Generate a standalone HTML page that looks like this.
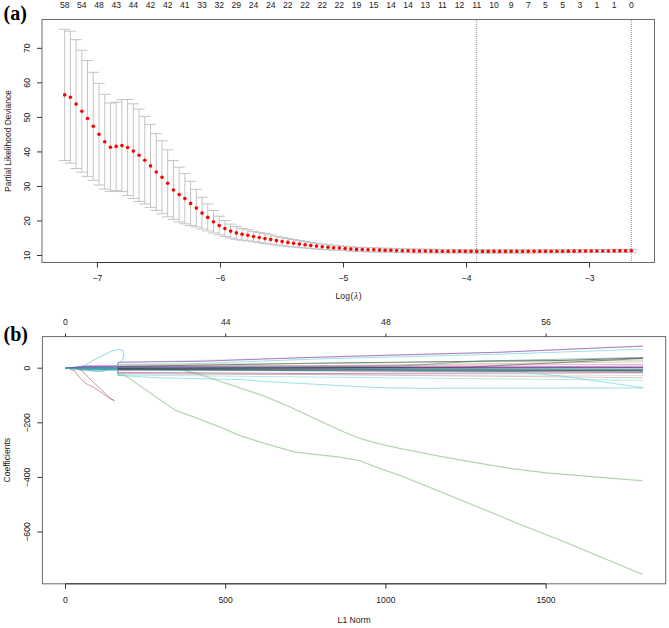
<!DOCTYPE html>
<html><head><meta charset="utf-8"><style>
html,body{margin:0;padding:0;background:#fff;width:669px;height:628px;overflow:hidden}
svg{display:block}
</style></head><body>
<svg width="669" height="628" viewBox="0 0 669 628"><rect width="669" height="628" fill="#fff"/><path d="M64.66 29.30V160.50M58.99 29.30H70.33M58.99 160.50H70.33M70.38 31.20V163.20M64.71 31.20H76.05M64.71 163.20H76.05M76.11 39.70V168.50M70.44 39.70H81.78M70.44 168.50H81.78M81.83 50.20V172.20M76.16 50.20H87.50M76.16 172.20H87.50M87.55 60.60V176.40M81.88 60.60H93.22M81.88 176.40H93.22M93.28 72.30V180.30M87.61 72.30H98.95M87.61 180.30H98.95M99.00 83.40V185.00M93.33 83.40H104.67M93.33 185.00H104.67M104.73 94.30V189.10M99.06 94.30H110.40M99.06 189.10H110.40M110.45 103.00V191.40M104.78 103.00H116.12M104.78 191.40H116.12M116.17 102.20V190.60M110.50 102.20H121.84M110.50 190.60H121.84M121.90 99.60V191.60M116.23 99.60H127.57M116.23 191.60H127.57M127.62 99.50V195.50M121.95 99.50H133.29M121.95 195.50H133.29M133.34 103.80V198.40M127.67 103.80H139.01M127.67 198.40H139.01M139.07 109.00V201.40M133.40 109.00H144.74M133.40 201.40H144.74M144.79 116.40V204.00M139.12 116.40H150.46M139.12 204.00H150.46M150.51 124.40V207.40M144.84 124.40H156.18M144.84 207.40H156.18M156.24 133.60V210.40M150.57 133.60H161.91M150.57 210.40H161.91M161.96 140.80V213.80M156.29 140.80H167.63M156.29 213.80H167.63M167.68 149.80V216.80M162.01 149.80H173.35M162.01 216.80H173.35M173.41 160.60V219.40M167.74 160.60H179.08M167.74 219.40H179.08M179.13 167.20V222.00M173.46 167.20H184.80M173.46 222.00H184.80M184.86 173.40V223.80M179.19 173.40H190.53M179.19 223.80H190.53M190.58 181.30V225.50M184.91 181.30H196.25M184.91 225.50H196.25M196.30 189.30V226.90M190.63 189.30H201.97M190.63 226.90H201.97M202.03 197.30V228.90M196.36 197.30H207.70M196.36 228.90H207.70M207.75 203.90V230.90M202.08 203.90H213.42M202.08 230.90H213.42M213.47 210.50V232.90M207.80 210.50H219.14M207.80 232.90H219.14M219.20 216.20V234.80M213.53 216.20H224.87M213.53 234.80H224.87M224.92 220.60V236.60M219.25 220.60H230.59M219.25 236.60H230.59M230.64 224.10V238.10M224.97 224.10H236.31M224.97 238.10H236.31M236.37 226.50V239.30M230.70 226.50H242.04M230.70 239.30H242.04M242.09 228.40V240.20M236.42 228.40H247.76M236.42 240.20H247.76M247.82 229.70V240.90M242.15 229.70H253.49M242.15 240.90H253.49M253.54 231.30V241.70M247.87 231.30H259.21M247.87 241.70H259.21M259.26 232.40V242.60M253.59 232.40H264.93M253.59 242.60H264.93M264.99 233.60V243.60M259.32 233.60H270.66M259.32 243.60H270.66M270.71 234.90V244.10M265.04 234.90H276.38M265.04 244.10H276.38M276.43 236.20V245.00M270.76 236.20H282.10M270.76 245.00H282.10M282.16 237.40V245.80M276.49 237.40H287.83M276.49 245.80H287.83M287.88 238.44V246.36M282.21 238.44H293.55M282.21 246.36H293.55M293.60 239.58V247.02M287.93 239.58H299.27M287.93 247.02H299.27M299.33 240.62V247.58M293.66 240.62H305.00M293.66 247.58H305.00M305.05 241.46V247.94M299.38 241.46H310.72M299.38 247.94H310.72M310.77 242.50V248.50M305.10 242.50H316.44M305.10 248.50H316.44M316.50 243.26V248.94M310.83 243.26H322.17M310.83 248.94H322.17M322.22 244.12V249.48M316.55 244.12H327.89M316.55 249.48H327.89M327.95 244.78V249.82M322.28 244.78H333.62M322.28 249.82H333.62M333.67 245.34V250.06M328.00 245.34H339.34M328.00 250.06H339.34M339.39 245.80V250.20M333.72 245.80H345.06M333.72 250.20H345.06M345.12 246.32V250.68M339.45 246.32H350.79M339.45 250.68H350.79M350.84 246.85V251.15M345.17 246.85H356.51M345.17 251.15H356.51M356.56 247.28V251.53M350.89 247.28H362.23M350.89 251.53H362.23M362.29 247.40V251.60M356.62 247.40H367.96M356.62 251.60H367.96M368.01 247.62V251.77M362.34 247.62H373.68M362.34 251.77H373.68M373.73 247.75V251.85M368.06 247.75H379.40M368.06 251.85H379.40M379.46 248.07V252.12M373.79 248.07H385.13M373.79 252.12H385.13M385.18 248.20V252.20M379.51 248.20H390.85M379.51 252.20H390.85M390.91 248.33V252.28M385.24 248.33H396.58M385.24 252.28H396.58M396.63 248.65V252.55M390.96 248.65H402.30M390.96 252.55H402.30M402.35 248.77V252.62M396.68 248.77H408.02M396.68 252.62H408.02M408.08 248.90V252.70M402.41 248.90H413.75M402.41 252.70H413.75M413.80 249.03V252.78M408.13 249.03H419.47M408.13 252.78H419.47M419.52 249.11V252.81M413.85 249.11H425.19M413.85 252.81H425.19M425.25 249.20V252.84M419.58 249.20H430.92M419.58 252.84H430.92M430.97 249.28V252.88M425.30 249.28H436.64M425.30 252.88H436.64M436.69 249.36V252.91M431.02 249.36H442.36M431.02 252.91H442.36M442.42 249.45V252.95M436.75 249.45H448.09M436.75 252.95H448.09M448.14 249.51V252.96M442.47 249.51H453.81M442.47 252.96H453.81M453.86 249.57V252.97M448.19 249.57H459.53M448.19 252.97H459.53M459.59 249.62V252.98M453.92 249.62H465.26M453.92 252.98H465.26M465.31 249.68V252.98M459.64 249.68H470.98M459.64 252.98H470.98M471.04 249.74V252.99M465.37 249.74H476.71M465.37 252.99H476.71M476.76 249.80V253.00M471.09 249.80H482.43M471.09 253.00H482.43M482.48 249.80V253.00M476.81 249.80H488.15M476.81 253.00H488.15M488.21 249.81V252.99M482.54 249.81H493.88M482.54 252.99H493.88M493.93 249.81V252.99M488.26 249.81H499.60M488.26 252.99H499.60M499.65 249.81V252.99M493.98 249.81H505.32M493.98 252.99H505.32M505.38 249.82V252.98M499.71 249.82H511.05M499.71 252.98H511.05M511.10 249.82V252.98M505.43 249.82H516.77M505.43 252.98H516.77M516.82 249.83V252.97M511.15 249.83H522.49M511.15 252.97H522.49M522.55 249.83V252.97M516.88 249.83H528.22M516.88 252.97H528.22M528.27 249.80V252.94M522.60 249.80H533.94M522.60 252.94H533.94M534.00 249.78V252.90M528.33 249.78H539.67M528.33 252.90H539.67M539.72 249.75V252.87M534.05 249.75H545.39M534.05 252.87H545.39M545.44 249.72V252.84M539.77 249.72H551.11M539.77 252.84H551.11M551.17 249.70V252.80M545.50 249.70H556.84M545.50 252.80H556.84M556.89 249.67V252.77M551.22 249.67H562.56M551.22 252.77H562.56M562.61 249.65V252.73M556.94 249.65H568.28M556.94 252.73H568.28M568.34 249.62V252.70M562.67 249.62H574.01M562.67 252.70H574.01M574.06 249.59V252.67M568.39 249.59H579.73M568.39 252.67H579.73M579.78 249.57V252.63M574.11 249.57H585.45M574.11 252.63H585.45M585.51 249.54V252.60M579.84 249.54H591.18M579.84 252.60H591.18M591.23 249.51V252.56M585.56 249.51H596.90M585.56 252.56H596.90M596.95 249.48V252.52M591.28 249.48H602.62M591.28 252.52H602.62M602.68 249.45V252.49M597.01 249.45H608.35M597.01 252.49H608.35M608.40 249.42V252.45M602.73 249.42H614.07M602.73 252.45H614.07M614.13 249.39V252.41M608.46 249.39H619.80M608.46 252.41H619.80M619.85 249.36V252.37M614.18 249.36H625.52M614.18 252.37H625.52M625.57 249.33V252.34M619.90 249.33H631.24M619.90 252.34H631.24M631.30 249.30V252.30M625.63 249.30H636.97M625.63 252.30H636.97" stroke="#c4c4c4" stroke-width="1" fill="none"/><line x1="476.7" y1="20" x2="476.7" y2="262" stroke="#999" stroke-width="1" stroke-dasharray="1 1"/><line x1="631.4" y1="20" x2="631.4" y2="262" stroke="#999" stroke-width="1" stroke-dasharray="1 1"/><g fill="#ff0000"><circle cx="64.66" cy="94.90" r="1.8"/><circle cx="70.38" cy="97.20" r="1.8"/><circle cx="76.11" cy="104.10" r="1.8"/><circle cx="81.83" cy="111.20" r="1.8"/><circle cx="87.55" cy="118.50" r="1.8"/><circle cx="93.28" cy="126.30" r="1.8"/><circle cx="99.00" cy="134.20" r="1.8"/><circle cx="104.73" cy="141.70" r="1.8"/><circle cx="110.45" cy="147.20" r="1.8"/><circle cx="116.17" cy="146.40" r="1.8"/><circle cx="121.90" cy="145.60" r="1.8"/><circle cx="127.62" cy="147.50" r="1.8"/><circle cx="133.34" cy="151.10" r="1.8"/><circle cx="139.07" cy="155.20" r="1.8"/><circle cx="144.79" cy="160.20" r="1.8"/><circle cx="150.51" cy="165.90" r="1.8"/><circle cx="156.24" cy="172.00" r="1.8"/><circle cx="161.96" cy="177.30" r="1.8"/><circle cx="167.68" cy="183.30" r="1.8"/><circle cx="173.41" cy="190.00" r="1.8"/><circle cx="179.13" cy="194.60" r="1.8"/><circle cx="184.86" cy="198.60" r="1.8"/><circle cx="190.58" cy="203.40" r="1.8"/><circle cx="196.30" cy="208.10" r="1.8"/><circle cx="202.03" cy="213.10" r="1.8"/><circle cx="207.75" cy="217.40" r="1.8"/><circle cx="213.47" cy="221.70" r="1.8"/><circle cx="219.20" cy="225.50" r="1.8"/><circle cx="224.92" cy="228.60" r="1.8"/><circle cx="230.64" cy="231.10" r="1.8"/><circle cx="236.37" cy="232.90" r="1.8"/><circle cx="242.09" cy="234.30" r="1.8"/><circle cx="247.82" cy="235.30" r="1.8"/><circle cx="253.54" cy="236.50" r="1.8"/><circle cx="259.26" cy="237.50" r="1.8"/><circle cx="264.99" cy="238.60" r="1.8"/><circle cx="270.71" cy="239.50" r="1.8"/><circle cx="276.43" cy="240.60" r="1.8"/><circle cx="282.16" cy="241.60" r="1.8"/><circle cx="287.88" cy="242.40" r="1.8"/><circle cx="293.60" cy="243.30" r="1.8"/><circle cx="299.33" cy="244.10" r="1.8"/><circle cx="305.05" cy="244.70" r="1.8"/><circle cx="310.77" cy="245.50" r="1.8"/><circle cx="316.50" cy="246.10" r="1.8"/><circle cx="322.22" cy="246.80" r="1.8"/><circle cx="327.95" cy="247.30" r="1.8"/><circle cx="333.67" cy="247.70" r="1.8"/><circle cx="339.39" cy="248.00" r="1.8"/><circle cx="345.12" cy="248.50" r="1.8"/><circle cx="350.84" cy="249.00" r="1.8"/><circle cx="356.56" cy="249.40" r="1.8"/><circle cx="362.29" cy="249.50" r="1.8"/><circle cx="368.01" cy="249.70" r="1.8"/><circle cx="373.73" cy="249.80" r="1.8"/><circle cx="379.46" cy="250.10" r="1.8"/><circle cx="385.18" cy="250.20" r="1.8"/><circle cx="390.91" cy="250.30" r="1.8"/><circle cx="396.63" cy="250.60" r="1.8"/><circle cx="402.35" cy="250.70" r="1.8"/><circle cx="408.08" cy="250.80" r="1.8"/><circle cx="413.80" cy="250.90" r="1.8"/><circle cx="419.52" cy="250.96" r="1.8"/><circle cx="425.25" cy="251.02" r="1.8"/><circle cx="430.97" cy="251.08" r="1.8"/><circle cx="436.69" cy="251.14" r="1.8"/><circle cx="442.42" cy="251.20" r="1.8"/><circle cx="448.14" cy="251.23" r="1.8"/><circle cx="453.86" cy="251.27" r="1.8"/><circle cx="459.59" cy="251.30" r="1.8"/><circle cx="465.31" cy="251.33" r="1.8"/><circle cx="471.04" cy="251.37" r="1.8"/><circle cx="476.76" cy="251.40" r="1.8"/><circle cx="482.48" cy="251.40" r="1.8"/><circle cx="488.21" cy="251.40" r="1.8"/><circle cx="493.93" cy="251.40" r="1.8"/><circle cx="499.65" cy="251.40" r="1.8"/><circle cx="505.38" cy="251.40" r="1.8"/><circle cx="511.10" cy="251.40" r="1.8"/><circle cx="516.82" cy="251.40" r="1.8"/><circle cx="522.55" cy="251.40" r="1.8"/><circle cx="528.27" cy="251.37" r="1.8"/><circle cx="534.00" cy="251.34" r="1.8"/><circle cx="539.72" cy="251.31" r="1.8"/><circle cx="545.44" cy="251.28" r="1.8"/><circle cx="551.17" cy="251.25" r="1.8"/><circle cx="556.89" cy="251.22" r="1.8"/><circle cx="562.61" cy="251.19" r="1.8"/><circle cx="568.34" cy="251.16" r="1.8"/><circle cx="574.06" cy="251.13" r="1.8"/><circle cx="579.78" cy="251.10" r="1.8"/><circle cx="585.51" cy="251.07" r="1.8"/><circle cx="591.23" cy="251.03" r="1.8"/><circle cx="596.95" cy="251.00" r="1.8"/><circle cx="602.68" cy="250.97" r="1.8"/><circle cx="608.40" cy="250.93" r="1.8"/><circle cx="614.13" cy="250.90" r="1.8"/><circle cx="619.85" cy="250.87" r="1.8"/><circle cx="625.57" cy="250.83" r="1.8"/><circle cx="631.30" cy="250.80" r="1.8"/></g><rect x="42.0" y="19.5" width="612.5" height="243.0" fill="none" stroke="#6a6a6a" stroke-width="1"/><path d="M97.40 262.5V267.5M220.44 262.5V267.5M343.48 262.5V267.5M466.52 262.5V267.5M589.56 262.5V267.5M97.40 262.5H589.56M37.0 255.50H42.0M37.0 220.97H42.0M37.0 186.44H42.0M37.0 151.91H42.0M37.0 117.38H42.0M37.0 82.85H42.0M37.0 48.32H42.0" stroke="#333" stroke-width="1" fill="none"/><g font-family='"Liberation Sans", sans-serif' font-size="8.6" fill="#222"><text x="97.40" y="280.8" text-anchor="middle">−7</text><text x="220.44" y="280.8" text-anchor="middle">−6</text><text x="343.48" y="280.8" text-anchor="middle">−5</text><text x="466.52" y="280.8" text-anchor="middle">−4</text><text x="589.56" y="280.8" text-anchor="middle">−3</text><text transform="translate(30.2 255.50) rotate(-90)" text-anchor="middle">10</text><text transform="translate(30.2 220.97) rotate(-90)" text-anchor="middle">20</text><text transform="translate(30.2 186.44) rotate(-90)" text-anchor="middle">30</text><text transform="translate(30.2 151.91) rotate(-90)" text-anchor="middle">40</text><text transform="translate(30.2 117.38) rotate(-90)" text-anchor="middle">50</text><text transform="translate(30.2 82.85) rotate(-90)" text-anchor="middle">60</text><text transform="translate(30.2 48.32) rotate(-90)" text-anchor="middle">70</text><text x="64.66" y="7.9" text-anchor="middle">58</text><text x="81.83" y="7.9" text-anchor="middle">54</text><text x="99.00" y="7.9" text-anchor="middle">48</text><text x="116.17" y="7.9" text-anchor="middle">43</text><text x="133.34" y="7.9" text-anchor="middle">44</text><text x="150.51" y="7.9" text-anchor="middle">42</text><text x="167.68" y="7.9" text-anchor="middle">42</text><text x="184.86" y="7.9" text-anchor="middle">41</text><text x="202.03" y="7.9" text-anchor="middle">33</text><text x="219.20" y="7.9" text-anchor="middle">32</text><text x="236.37" y="7.9" text-anchor="middle">29</text><text x="253.54" y="7.9" text-anchor="middle">24</text><text x="270.71" y="7.9" text-anchor="middle">24</text><text x="287.88" y="7.9" text-anchor="middle">22</text><text x="305.05" y="7.9" text-anchor="middle">22</text><text x="322.22" y="7.9" text-anchor="middle">22</text><text x="339.39" y="7.9" text-anchor="middle">22</text><text x="356.56" y="7.9" text-anchor="middle">19</text><text x="373.73" y="7.9" text-anchor="middle">15</text><text x="390.91" y="7.9" text-anchor="middle">14</text><text x="408.08" y="7.9" text-anchor="middle">14</text><text x="425.25" y="7.9" text-anchor="middle">13</text><text x="442.42" y="7.9" text-anchor="middle">11</text><text x="459.59" y="7.9" text-anchor="middle">12</text><text x="476.76" y="7.9" text-anchor="middle">11</text><text x="493.93" y="7.9" text-anchor="middle">10</text><text x="511.10" y="7.9" text-anchor="middle">9</text><text x="528.27" y="7.9" text-anchor="middle">7</text><text x="545.44" y="7.9" text-anchor="middle">5</text><text x="562.61" y="7.9" text-anchor="middle">5</text><text x="579.78" y="7.9" text-anchor="middle">3</text><text x="596.95" y="7.9" text-anchor="middle">1</text><text x="614.13" y="7.9" text-anchor="middle">1</text><text x="631.30" y="7.9" text-anchor="middle">0</text><text x="335.6" y="299">Log<tspan dx="0.6">(</tspan><tspan dx="0.5" font-family="'Liberation Serif', serif" font-style="italic" font-size="9.4">λ</tspan><tspan dx="0.7">)</tspan></text><text transform="translate(11.2 141.0) rotate(-90)" text-anchor="middle" font-size="8.45">Partial Likelihood Deviance</text></g><path d="M65.5 368.2L117.5 369.5L117.8 375.2L124.3 375.0L148.2 391.5L175.3 410.3L198.2 418.6L221.1 427.5L240.0 435.6L265.5 443.7L294.8 452.0L320.0 455.0L337.9 456.8L359.5 460.7L379.8 468.4L400.0 475.4L440.0 491.6L480.0 507.8L520.0 524.4L560.0 540.1L642.6 574.4" stroke="#61D04F" stroke-width="2.2" fill="none" stroke-opacity="0.09"/><path d="M65.5 368.2L117.5 368.5L179.1 369.2L198.2 374.0L217.3 380.4L240.0 387.9L265.5 396.6L291.0 407.4L320.0 421.0L343.9 432.0L361.9 439.1L379.8 443.9L400.0 448.5L440.0 456.3L475.9 462.7L511.8 468.7L547.6 473.0L583.5 475.9L600.0 477.4L642.4 480.7" stroke="#61D04F" stroke-width="2.2" fill="none" stroke-opacity="0.09"/><path d="M65.5 368.2L117.5 369.5L117.8 375.2L124.3 375.0L148.2 391.5L175.3 410.3L198.2 418.6L221.1 427.5L240.0 435.6L265.5 443.7L294.8 452.0L320.0 455.0L337.9 456.8L359.5 460.7L379.8 468.4L400.0 475.4L440.0 491.6L480.0 507.8L520.0 524.4L560.0 540.1L642.6 574.4" stroke="#7aa872" stroke-width="0.9" fill="none" stroke-opacity="0.62"/><path d="M65.5 368.2L117.5 368.5L179.1 369.2L198.2 374.0L217.3 380.4L240.0 387.9L265.5 396.6L291.0 407.4L320.0 421.0L343.9 432.0L361.9 439.1L379.8 443.9L400.0 448.5L440.0 456.3L475.9 462.7L511.8 468.7L547.6 473.0L583.5 475.9L600.0 477.4L642.4 480.7" stroke="#7aa872" stroke-width="0.9" fill="none" stroke-opacity="0.62"/><path d="M117.5 365.3L118.3 362.2L200.0 361.3L310.0 357.4L380.0 355.4L500.0 352.2L643.0 346.0" stroke="#a42699" stroke-width="0.9" fill="none" stroke-opacity="0.7"/><path d="M117.5 365.3L118.3 362.4L310.0 357.6L500.0 352.4L643.0 346.4" stroke="#428ec1" stroke-width="0.9" fill="none" stroke-opacity="0.25"/><path d="M117.5 366.0L118.3 364.3L200.0 363.5L310.0 359.2L380.0 357.3L500.0 354.2L643.0 349.2" stroke="#56cfd1" stroke-width="0.9" fill="none" stroke-opacity="0.65"/><path d="M117.5 366.8L118.3 366.5L310.0 363.3L500.0 361.0L560.0 360.5L643.0 358.0" stroke="#000000" stroke-width="0.9" fill="none" stroke-opacity="0.6"/><path d="M117.5 367.3L118.3 364.8L310.0 363.5L643.0 360.3" stroke="#77bf6b" stroke-width="0.9" fill="none" stroke-opacity="0.5"/><path d="M117.5 366.3L118.3 365.8L310.0 365.7L643.0 361.9" stroke="#be6372" stroke-width="0.9" fill="none" stroke-opacity="0.45"/><path d="M117.5 367.0L118.3 366.5L643.0 364.5" stroke="#be6372" stroke-width="0.9" fill="none" stroke-opacity="0.55"/><path d="M117.5 367.6L118.3 367.2L643.0 367.1" stroke="#a42699" stroke-width="0.9" fill="none" stroke-opacity="0.6"/><path d="M117.5 368.0L118.3 367.0L643.0 367.5" stroke="#3a2a8a" stroke-width="0.9" fill="none" stroke-opacity="0.75"/><path d="M117.5 368.4L118.3 367.8L643.0 368.9" stroke="#428ec1" stroke-width="0.9" fill="none" stroke-opacity="0.75"/><path d="M117.5 369.0L118.3 369.3L643.0 370.6" stroke="#000000" stroke-width="0.9" fill="none" stroke-opacity="0.7"/><path d="M117.5 369.3L118.3 369.6L643.0 369.8" stroke="#77bf6b" stroke-width="0.9" fill="none" stroke-opacity="0.6"/><path d="M117.5 368.6L118.3 368.4L643.0 369.4" stroke="#2a5a6a" stroke-width="0.9" fill="none" stroke-opacity="0.6"/><path d="M117.5 369.8L118.3 372.4L310.0 373.5L643.0 372.8" stroke="#a42699" stroke-width="0.9" fill="none" stroke-opacity="0.6"/><path d="M117.5 370.2L118.3 374.0L643.0 375.5" stroke="#77bf6b" stroke-width="0.9" fill="none" stroke-opacity="0.35"/><path d="M117.5 370.0L118.3 373.5L310.0 374.5L643.0 377.7" stroke="#be6372" stroke-width="0.9" fill="none" stroke-opacity="0.45"/><path d="M117.5 370.5L118.3 375.0L310.0 377.0L643.0 380.3" stroke="#56cfd1" stroke-width="0.9" fill="none" stroke-opacity="0.5"/><path d="M117.5 369.5L118.3 370.0L520.0 372.0L560.0 375.9L643.0 387.7" stroke="#56cfd1" stroke-width="0.9" fill="none" stroke-opacity="0.65"/><path d="M117.5 371.0L118.3 375.5L160.0 377.8L240.0 379.5L260.0 381.2L320.0 384.5L380.0 387.7L420.0 388.3L643.0 388.0" stroke="#56cfd1" stroke-width="0.9" fill="none" stroke-opacity="0.65"/><path d="M117.5 368.2L118.3 368.5L470.0 367.0L643.0 358.5" stroke="#000000" stroke-width="0.9" fill="none" stroke-opacity="0.45"/><path d="M117.5 368.4L118.3 369.0L400.0 366.0L480.0 361.0L643.0 357.5" stroke="#2a7f6f" stroke-width="0.9" fill="none" stroke-opacity="0.55"/><path d="M117.5 368.6L118.3 370.0L643.0 366.0" stroke="#a42699" stroke-width="0.9" fill="none" stroke-opacity="0.45"/><path d="M117.5 368.8L118.3 369.8L643.0 372.0" stroke="#000000" stroke-width="0.9" fill="none" stroke-opacity="0.45"/><path d="M117.5 368.3L118.3 368.0L643.0 371.0" stroke="#1f5f7f" stroke-width="0.9" fill="none" stroke-opacity="0.5"/><path d="M65.5 368.2L79.0 366.7L84.0 366.0L117.5 365.8" stroke="#a42699" stroke-width="0.9" fill="none" stroke-opacity="0.7"/><path d="M65.5 368.2L79.0 367.0L84.0 366.5L117.5 366.3" stroke="#a42699" stroke-width="0.9" fill="none" stroke-opacity="0.5"/><path d="M65.5 368.2L79.0 367.4L84.0 367.0L117.5 367.0" stroke="#3a3a9a" stroke-width="0.9" fill="none" stroke-opacity="0.75"/><path d="M65.5 368.2L79.0 367.7L84.0 367.5L117.5 367.4" stroke="#428ec1" stroke-width="0.9" fill="none" stroke-opacity="0.75"/><path d="M65.5 368.2L79.0 368.1L84.0 368.0L117.5 368.0" stroke="#1f5f9f" stroke-width="0.9" fill="none" stroke-opacity="0.75"/><path d="M65.5 368.2L79.0 368.6L84.0 368.8L117.5 368.8" stroke="#2a4a9a" stroke-width="0.9" fill="none" stroke-opacity="0.6"/><path d="M65.5 368.2L79.0 368.4L84.0 368.5L117.5 368.4" stroke="#56cfd1" stroke-width="0.9" fill="none" stroke-opacity="0.7"/><path d="M65.5 368.2L79.0 368.8L84.0 369.0L117.5 369.0" stroke="#1f7f8f" stroke-width="0.9" fill="none" stroke-opacity="0.6"/><path d="M65.5 368.2L79.0 369.1L84.0 369.5L117.5 369.5" stroke="#56cfd1" stroke-width="0.9" fill="none" stroke-opacity="0.7"/><path d="M65.5 368.2L79.0 369.5L84.0 370.0L117.5 370.0" stroke="#428ec1" stroke-width="0.9" fill="none" stroke-opacity="0.6"/><path d="M65.5 368.2L79.0 369.8L84.0 370.5L117.5 370.5" stroke="#56cfd1" stroke-width="0.9" fill="none" stroke-opacity="0.5"/><path d="M65.5 368.2L79.0 368.9L84.0 369.2L117.5 369.2" stroke="#2a9d8f" stroke-width="0.9" fill="none" stroke-opacity="0.5"/><path d="M84.3 365.7L94.0 360.0L103.7 355.0L112.0 351.0L118.7 349.5L122.5 350.5L123.9 353.2L123.4 357.0L122.4 360.0L119.4 363.0" stroke="#56cfd1" stroke-width="0.9" fill="none" stroke-opacity="0.8"/><path d="M70.0 369.0L74.6 371.0L79.4 377.4L85.3 383.2L93.0 387.1L100.8 392.0L107.6 396.8L110.5 398.7L114.4 400.7L109.6 398.2L107.6 395.8L100.8 389.0L92.1 381.2L82.4 371.0L78.0 369.0" stroke="#be6372" stroke-width="0.9" fill="none" stroke-opacity="0.75"/><path d="M86.0 369.5L92.0 371.0L98.0 371.6L104.0 371.0L108.0 369.5" stroke="#428ec1" stroke-width="0.9" fill="none" stroke-opacity="0.6"/><rect x="42.4" y="336.6" width="623.3000000000001" height="247.19999999999993" fill="none" stroke="#6a6a6a" stroke-width="1"/><path d="M65.50 583.8V588.8M65.50 336.6V333.6M225.70 583.8V588.8M225.70 336.6V333.6M385.90 583.8V588.8M385.90 336.6V333.6M546.10 583.8V588.8M546.10 336.6V333.6M65.50 583.8H546.10M37.4 368.20H42.4M37.4 422.80H42.4M37.4 477.40H42.4M37.4 532.00H42.4" stroke="#333" stroke-width="1" fill="none"/><g font-family='"Liberation Sans", sans-serif' font-size="8.6" fill="#222"><text x="65.50" y="603" text-anchor="middle">0</text><text x="225.70" y="603" text-anchor="middle">500</text><text x="385.90" y="603" text-anchor="middle">1000</text><text x="546.10" y="603" text-anchor="middle">1500</text><text x="65.50" y="324.6" text-anchor="middle">0</text><text x="225.70" y="324.6" text-anchor="middle">44</text><text x="385.90" y="324.6" text-anchor="middle">48</text><text x="546.10" y="324.6" text-anchor="middle">56</text><text transform="translate(30.1 368.20) rotate(-90)" text-anchor="middle">0</text><text transform="translate(30.1 422.80) rotate(-90)" text-anchor="middle">−200</text><text transform="translate(30.1 477.40) rotate(-90)" text-anchor="middle">−400</text><text transform="translate(30.1 532.00) rotate(-90)" text-anchor="middle">−600</text><text x="354.1" y="623" text-anchor="middle">L1 Norm</text><text transform="translate(10.2 460.2) rotate(-90)" text-anchor="middle">Coefficients</text></g><g font-family='"Liberation Serif", serif' font-weight="bold" font-size="20" fill="#000"><text x="3.5" y="20.3">(a)</text><text x="3.5" y="341.3">(b)</text></g></svg>
</body></html>
